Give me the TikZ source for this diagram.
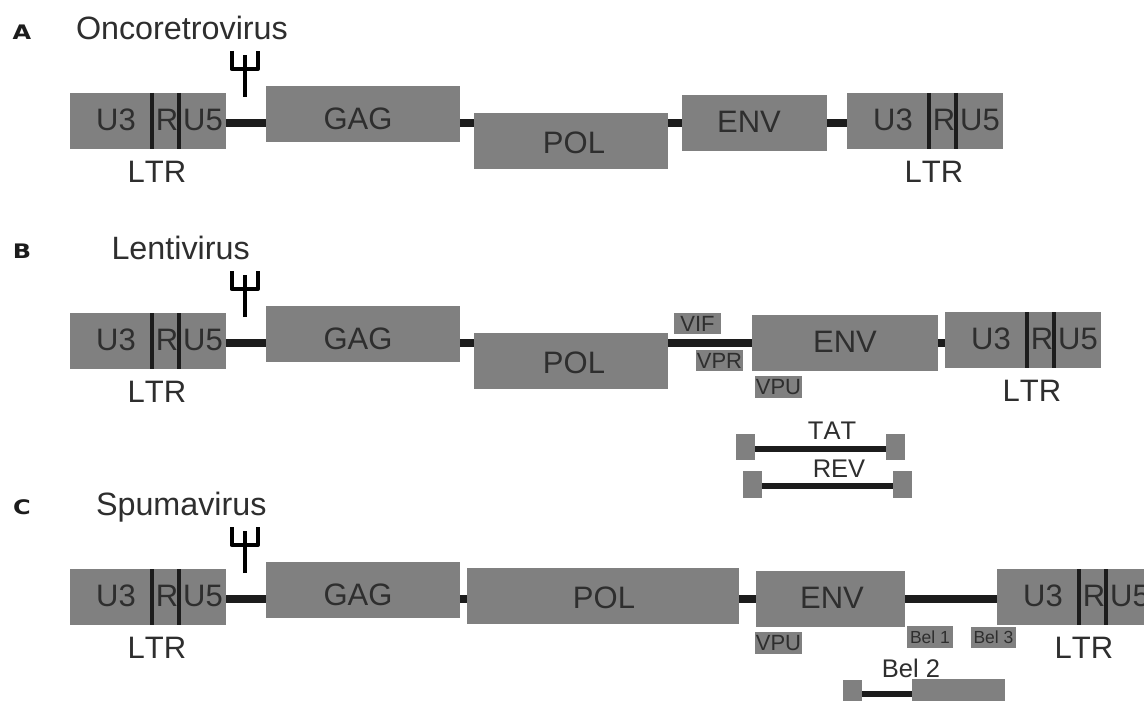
\documentclass[tikz,border=0pt]{standalone}
\usepackage{fontspec}
\setmainfont[Kerning=Off]{Liberation Sans}
\newfontfamily\panelfont{DejaVu Sans}
\definecolor{boxgray}{HTML}{808080}
\definecolor{inkdark}{HTML}{1C1C1C}
\definecolor{txtdark}{HTML}{2E2E2E}
\tikzset{
  gbox/.style={fill=boxgray,draw=none,inner sep=0pt,outer sep=0pt,text=txtdark,font=\fontsize{31}{31}\selectfont},
  lbl/.style={inner sep=0pt,outer sep=0pt,text=txtdark,font=\fontsize{31}{31}\selectfont},
  titletxt/.style={inner sep=0pt,outer sep=0pt,text=txtdark,anchor=base west,font=\fontsize{32.3}{32.3}\selectfont},
  conn/.style={draw=inkdark,line width=8pt},
  thinconn/.style={draw=inkdark,line width=5.5pt},
  divider/.style={draw=inkdark,line width=3.4pt},
  psiline/.style={draw=black,line width=4pt},
  smalltxt/.style={font=\fontsize{22}{22}\selectfont},
  beltxt/.style={font=\fontsize{17.5}{17.5}\selectfont},
  midtxt/.style={font=\fontsize{25.5}{25.5}\selectfont},
  panel/.style={inner sep=0pt,outer sep=0pt,text=inkdark,font=\panelfont\bfseries\fontsize{20}{20}\selectfont,xscale=1.2}
}
% name, x1, y1, x2, y2, text, extra style
\newcommand{\bx}[7][]{%
  \node[gbox,#1,minimum width={(#5-#3)*1pt},minimum height={(#6-#4)*1pt}] (#2) at ({(#3+#5)/2},{(#4+#6)/2}) {#7};}
% name, left x, top y
\newcommand{\ltrunit}[3]{%
  \bx{#1}{#2}{#3}{#2+156}{#3+56}{}
  \node[lbl] (#1u3) at ({#2+46},{#3+26.5}) {U3};
  \node[lbl] (#1r) at ({#2+97},{#3+26.5}) {R};
  \node[lbl] (#1u5) at ({#2+133},{#3+26.5}) {U5};
  \coordinate (#1a) at ({#2+82},{#3});
  \coordinate (#1b) at ({#2+109},{#3});
  \draw[divider] (#1a) -- (#1a |- #1.south);
  \draw[divider] (#1b) -- (#1b |- #1.south);
  \node[lbl] (#1lab) at ({#2+87},{#3+79}) {LTR};}
% name, y of stem bottom
\newcommand{\psisym}[2]{%
  \coordinate (#1b) at (245,#2);
  \coordinate (#1j) at (245,{#2-28});
  \coordinate (#1t) at (245,{#2-42});
  \coordinate (#1l) at (231.5,{#2-46});
  \coordinate (#1r) at (258,{#2-46});
  \draw[psiline] (#1b) -- (#1t);
  \draw[psiline,line join=round] (#1l) -- (#1l |- #1j) -- (#1r |- #1j) -- (#1r);}
\newcommand{\joinh}[3][conn]{%
  \draw[#1] (#2) -- (#3);}
\begin{document}
\begin{tikzpicture}[x=1pt,y=-1pt]
\clip (0,0) rectangle (1144,701);
\fill[white] (0,0) rectangle (1144,701);

% ---------- A
\node[panel] (pa) at (22,32) {A};
\node[titletxt] (ta) at (76,40) {Oncoretrovirus};
\psisym{psia}{97}
\ltrunit{la}{70}{93}
\bx{ga}{266}{86}{460}{142}{}
\node[lbl] (gat) at (358,119) {GAG};
\bx{pola}{474}{113}{668}{169}{}
\node[lbl] (polat) at (574,143) {POL};
\bx{ea}{682}{95}{827}{151}{}
\node[lbl] (eat) at (749,122) {ENV};
\ltrunit{lb}{847}{93}
\coordinate (a1) at (la.east |- 0,123); \coordinate (a2) at (ga.west |- 0,123);
\coordinate (a3) at (ga.east |- 0,123); \coordinate (a4) at (pola.west |- 0,123);
\coordinate (a5) at (pola.east |- 0,123); \coordinate (a6) at (ea.west |- 0,123);
\coordinate (a7) at (ea.east |- 0,123); \coordinate (a8) at (lb.west |- 0,123);
\joinh{a1}{a2}\joinh{a3}{a4}\joinh{a5}{a6}\joinh{a7}{a8}

% ---------- B
\node[panel] (pb) at (22,251) {B};
\node[titletxt] (tb) at (111.5,259.5) {Lentivirus};
\psisym{psib}{317}
\ltrunit{lc}{70}{313}
\bx{gb}{266}{306}{460}{362}{}
\node[lbl] (gbt) at (358,339) {GAG};
\bx{polb}{474}{333}{668}{389}{}
\node[lbl] (polbt) at (574,363) {POL};
\bx{eb}{752}{315}{938}{371}{}
\node[lbl] (ebt) at (845,342) {ENV};
\ltrunit{ld}{945}{312}
\coordinate (b1) at (lc.east |- 0,343); \coordinate (b2) at (gb.west |- 0,343);
\coordinate (b3) at (gb.east |- 0,343); \coordinate (b4) at (polb.west |- 0,343);
\coordinate (b5) at (polb.east |- 0,343); \coordinate (b6) at (eb.west |- 0,343);
\coordinate (b7) at (eb.east |- 0,343); \coordinate (b8) at (ld.west |- 0,343);
\joinh{b1}{b2}\joinh{b3}{b4}\joinh{b5}{b6}\joinh{b7}{b8}
\bx[smalltxt]{vif}{674}{313}{721}{334}{VIF}
\bx[smalltxt]{vpr}{696}{350}{743}{371}{VPR}
\bx[smalltxt]{vpub}{755}{376}{802}{398}{VPU}
\bx{tatl}{736}{434}{755}{460}{}
\bx{tatr}{886}{434}{905}{460}{}
\coordinate (t1) at (tatl.east |- 0,449); \coordinate (t2) at (tatr.west |- 0,449);
\joinh[thinconn]{t1}{t2}
\node[lbl,midtxt] (tat) at (832,431) {TAT};
\bx{revl}{743}{471}{762}{498}{}
\bx{revr}{893}{471}{912}{498}{}
\coordinate (r1) at (revl.east |- 0,486); \coordinate (r2) at (revr.west |- 0,486);
\joinh[thinconn]{r1}{r2}
\node[lbl,midtxt] (rev) at (839,469) {REV};

% ---------- C
\node[panel] (pc) at (22,507) {C};
\node[titletxt] (tc) at (96,515.5) {Spumavirus};
\psisym{psic}{573}
\ltrunit{le}{70}{569}
\bx{gc}{266}{562}{460}{618}{}
\node[lbl] (gct) at (358,595) {GAG};
\bx{polc}{467}{568}{739}{624}{}
\node[lbl] (polct) at (604,598) {POL};
\bx{ec}{756}{571}{905}{627}{}
\node[lbl] (ect) at (832,598) {ENV};
\ltrunit{lf}{997}{569}
\coordinate (c1) at (le.east |- 0,599); \coordinate (c2) at (gc.west |- 0,599);
\coordinate (c3) at (gc.east |- 0,599); \coordinate (c4) at (polc.west |- 0,599);
\coordinate (c5) at (polc.east |- 0,599); \coordinate (c6) at (ec.west |- 0,599);
\coordinate (c7) at (ec.east |- 0,599); \coordinate (c8) at (lf.west |- 0,599);
\joinh{c1}{c2}\joinh{c3}{c4}\joinh{c5}{c6}\joinh{c7}{c8}
\bx[smalltxt]{vpuc}{755}{632}{802}{654}{VPU}
\bx[beltxt]{bela}{907}{626}{953}{648}{Bel 1}
\bx[beltxt]{belc}{971}{627}{1016}{648}{Bel 3}
\node[lbl,midtxt] (belb) at (911,668) {Bel 2};
\bx{bbl}{843}{680}{862}{701}{}
\bx{bbr}{912}{679}{1005}{701}{}
\coordinate (d1) at (bbl.east |- 0,694); \coordinate (d2) at (bbr.west |- 0,694);
\joinh[thinconn]{d1}{d2}
\end{tikzpicture}
\end{document}
